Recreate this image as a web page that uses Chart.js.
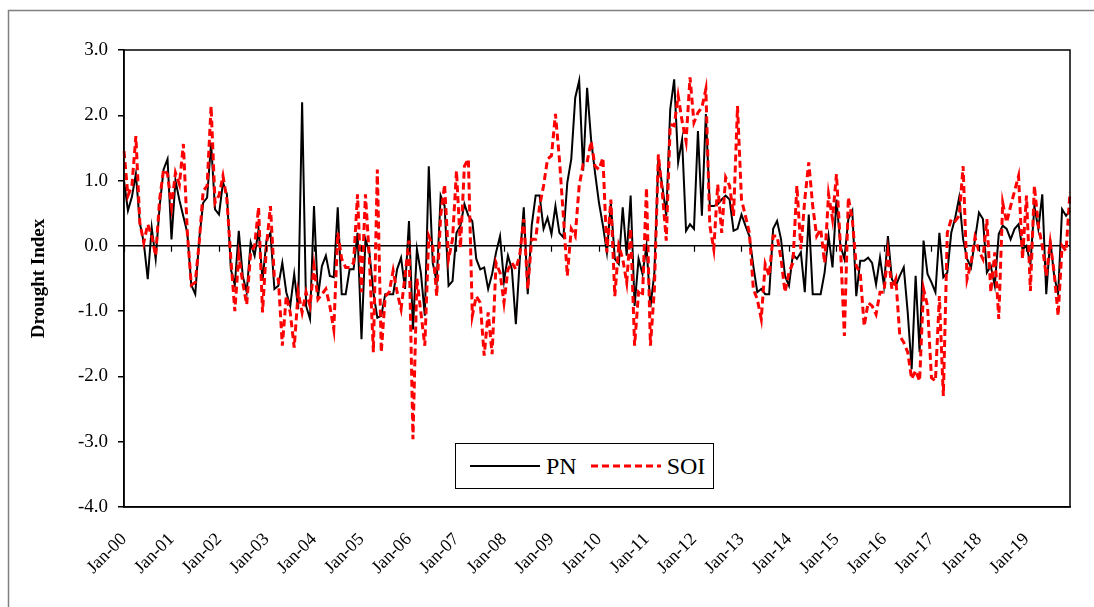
<!DOCTYPE html>
<html lang="en">
<head>
    <meta charset="UTF-8">
    <title>Drought Index PN vs SOI</title>
    <script src="https://cdn.jsdelivr.net/npm/chart.js"></script>
    <style>
        * { margin: 0; padding: 0; box-sizing: border-box; }
        body { background: white; width: 1094px; height: 607px; overflow: hidden; }
        .wrap { position: relative; width: 1094px; height: 607px; }
        .legend { position: absolute; left: 455px; top: 443px; width: 259px; height: 46px; border: 1.5px solid #000; background: white;
                  display: flex; align-items: center; padding-left: 14px; font-family: 'Liberation Serif', serif; font-size: 24px; color: #000; }
        .legend .item { display: flex; align-items: center; }
        .legend svg { margin-right: 6px; }
        .legend .item + .item { margin-left: 14px; }
    </style>
</head>
<body>
<div class="wrap">
    <canvas id="chart" width="1094" height="607"></canvas>
    <div id="legend" class="legend"></div>
</div>

<script>
    // monthly values Jan-2000 .. Dec-2019, one row per year
    const years = ["00","01","02","03","04","05","06","07","08","09","10","11","12","13","14","15","16","17","18","19"];
    const months = ["Jan","Feb","Mar","Apr","May","Jun","Jul","Aug","Sep","Oct","Nov","Dec"];

    const pn = [
        1.0, 0.54, 0.75, 1.1, 0.35, 0.05, -0.51, 0.28, -0.2, 0.6, 1.17, 1.33,
        0.1, 1.0, 0.7, 0.45, 0.2, -0.6, -0.74, 0.1, 0.66, 0.74, 1.58, 0.56,
        0.48, 0.97, 0.79, -0.36, -0.6, 0.23, -0.46, -0.71, 0.05, -0.15, 0.25, -0.53,
        0.08, 0.2, -0.66, -0.61, -0.26, -0.71, -0.92, -0.43, -0.97, 2.2, -0.92, -1.12,
        0.61, -0.79, -0.31, -0.15, -0.46, -0.48, 0.59, -0.74, -0.74, -0.36, -0.36, 0.2,
        -1.43, 0.1, -0.1, -0.71, -1.1, -1.07, -0.74, -0.74, -0.74, -0.36, -0.18, -0.66,
        0.38, -1.28, -0.05, -0.41, -1.07, 1.22, -0.26, -0.55, 0.77, 0.61, -0.61, -0.54,
        0.2, 0.31, 0.64, 0.46, 0.38, -0.2, -0.36, -0.33, -0.66, -0.43, -0.1, 0.15,
        -0.54, -0.15, -0.36, -1.2, -0.2, 0.59, -0.74, 0.31, 0.77, 0.77, 0.26, 0.43,
        0.18, 0.61, 0.2, 0.13, 0.97, 1.33, 2.27, 2.53, 1.15, 2.42, 1.63, 1.12,
        0.66, 0.31, -0.1, 0.66, -0.2, -0.28, 0.59, -0.15, 0.77, -0.92, -0.2, -0.43,
        0.0, -0.94, -0.41, 1.33, 0.92, 0.46, 2.09, 2.55, 1.28, 1.63, 0.23, 0.33,
        0.26, 1.76, 0.46, 2.02, 0.61, 0.61, 0.64, 0.71, 0.77, 0.71, 0.23, 0.26,
        0.48, 0.31, 0.15, -0.31, -0.71, -0.66, -0.74, -0.74, 0.26, 0.38, 0.1, -0.46,
        -0.61, -0.13, -0.2, -0.1, -0.71, 0.48, -0.74, -0.74, -0.74, -0.41, 0.15, -0.33,
        0.71, 0.0, -0.2, 0.41, 0.54, -0.77, -0.23, -0.23, -0.18, -0.26, -0.59, -0.18,
        -0.61, 0.15, -0.51, -0.61, -0.46, -0.33, -1.02, -1.89, -0.46, -1.63, 0.08, -0.43,
        -0.56, -0.71, 0.2, -0.48, -0.41, 0.2, 0.43, 0.74, 0.1, -0.2, -0.33, 0.1,
        0.51, 0.41, -0.41, -0.31, -0.61, 0.18, 0.31, 0.26, 0.1, 0.26, 0.33, -0.05,
        0.0, -0.28, 0.61, 0.26, 0.79, -0.74, 0.1, -0.46, -0.74, 0.56, 0.46, 0.54
    ];

    const soi = [
        1.45, 0.77, 0.92, 1.68, 0.35, 0.05, 0.33, 0.15, -0.15, 0.71, 1.17, 1.1,
        0.6, 1.12, 0.94, 1.56, 0.2, -0.6, -0.56, 0.05, 0.84, 0.92, 2.14, 0.66,
        0.77, 1.07, 0.71, -0.2, -1.0, -0.15, -0.56, -0.9, -0.1, 0.0, 0.59, -1.02,
        0.0, 0.61, -0.5, -0.51, -1.53, -0.77, -1.02, -1.56, -0.71, -1.02, -0.71, -0.92,
        -0.31, -0.82, -0.74, -0.66, -0.92, -1.28, 0.2, -0.2, -0.33, -0.33, -0.26, 0.79,
        -0.71, 0.79, -0.2, -1.63, 1.17, -1.63, -0.77, -0.71, -0.38, -0.71, -0.97, -0.46,
        0.08, -2.96, -0.5, -1.02, -1.53, 0.15, 0.0, -0.77, 0.46, 0.94, -0.2, 0.1,
        1.15, -0.03, 1.22, 1.33, -1.07, -0.77, -0.87, -1.68, -1.02, -1.66, -0.26, -0.41,
        -0.87, -0.36, -0.26, -0.36, -0.13, 0.41, -0.66, 0.1, 0.1, 0.61, 0.92, 1.33,
        1.38, 2.02, 1.33, 0.46, -0.46, 0.26, 0.15, 0.92, 1.25, 1.28, 1.6, 1.22,
        1.17, 1.35, -0.1, 0.71, -0.77, 0.0, -0.2, -0.56, 0.26, -1.53, -0.71, -0.77,
        0.89, -1.53, -0.66, 1.4, 0.82, 0.08, 1.86, 1.84, 2.3, 1.91, 1.6, 2.58,
        1.89, 2.04, 2.12, 2.4, 0.31, -0.05, 0.94, 0.2, 1.05, 0.92, 0.46, 2.14,
        0.71, 0.46, 0.2, -0.66, -0.82, -1.12, -0.28, -0.46, 0.15, 0.15, -0.2, -0.71,
        -0.41, -0.26, 0.92, -0.05, 0.71, 1.28, 0.61, 0.15, 0.26, -0.26, 0.79, 0.41,
        1.1, 0.0, -1.38, 0.74, 0.41, -0.31, -0.41, -1.23, -0.87, -0.92, -1.05, -0.71,
        -0.71, -0.1, -0.66, -0.51, -1.38, -1.48, -1.63, -2.04, -1.91, -2.07, -0.66, -0.92,
        -2.02, -2.07, -0.77, -2.3, 0.2, 0.41, 0.38, 0.46, 1.22, -0.51, -0.26, 0.13,
        -0.08, -0.2, 0.41, -0.71, -0.1, -1.12, 0.66, 0.36, 0.61, 0.84, 1.07, -0.2,
        0.77, -0.69, 0.92, 0.31, 0.0, -0.46, 0.05, -0.41, -1.07, 0.0, -0.08, 0.82
    ];

    const yTicks = [-4, -3, -2, -1, 0, 1, 2, 3];

    const labels = [];
    years.forEach(y => months.forEach(m => labels.push(m + "-" + y)));

    const serif = "'Liberation Serif', 'Times New Roman', serif";

    // outer frame, plot box and the little year ticks on the zero line
    const framePlugin = {
        id: "frame",
        beforeDraw(chart) {
            const ctx = chart.ctx;
            ctx.save();
            ctx.strokeStyle = "#808080";
            ctx.lineWidth = 1.5;
            ctx.strokeRect(8.5, 10.5, 1200, 700);
            ctx.restore();
        },
        afterDraw(chart) {
            const { ctx, chartArea: a, scales } = chart;
            ctx.save();
            ctx.strokeStyle = "#000";
            ctx.lineWidth = 1.5;
            ctx.strokeRect(a.left, a.top, a.right - a.left, a.bottom - a.top);
            const y0 = scales.y.getPixelForValue(0);
            ctx.lineWidth = 1.2;
            ctx.beginPath();
            for (let i = 0; i < labels.length; i += 12) {
                const x = Math.round(scales.x.getPixelForValue(i)) + 0.5;
                ctx.moveTo(x, y0);
                ctx.lineTo(x, y0 + 6);
            }
            ctx.stroke();
            ctx.restore();
        }
    };

    const chart = new Chart(document.getElementById("chart"), {
        type: "line",
        data: {
            labels: labels,
            datasets: [
                { label: "PN", data: pn, borderColor: "#000", borderWidth: 2, pointRadius: 0, tension: 0, order: 1 },
                { label: "SOI", data: soi, borderColor: "#ff0000", borderWidth: 3, borderDash: [7, 4], pointRadius: 0, tension: 0, order: 0 }
            ]
        },
        options: {
            responsive: false,
            animation: false,
            layout: { padding: { top: 50, right: 24, left: 0, bottom: 0 } },
            plugins: { legend: { display: false }, tooltip: { enabled: false } },
            scales: {
                x: {
                    offset: false,
                    grid: { display: false },
                    border: { display: true, color: "#000", width: 1.5 },
                    ticks: {
                        autoSkip: false,
                        minRotation: 45,
                        maxRotation: 45,
                        padding: 14,
                        color: "#000",
                        font: { family: serif, size: 18 },
                        callback: (v, i) => (i % 12 === 0 ? labels[i] : "")
                    },
                    afterFit: s => { s.height = 100; s.paddingLeft = 0; s.paddingRight = 0; }
                },
                y: {
                    min: -4,
                    max: 3,
                    afterBuildTicks: s => { s.ticks = yTicks.map(v => ({ value: v })); },
                    grid: {
                        drawOnChartArea: true,
                        color: c => (c.tick && c.tick.value === 0 ? "#000" : "rgba(0,0,0,0)"),
                        lineWidth: 1.5,
                        tickColor: "#000",
                        tickLength: 6
                    },
                    border: { display: true, color: "#000", width: 1.5 },
                    ticks: {
                        color: "#000",
                        padding: 10,
                        font: { family: serif, size: 19 },
                        callback: v => Number(v).toFixed(1)
                    },
                    title: {
                        display: true,
                        text: "Drought Index",
                        color: "#000",
                        padding: { top: 28, bottom: 0 },
                        font: { family: serif, size: 19, weight: "bold" }
                    },
                    afterFit: s => { s.width = 124; s.paddingTop = 0; s.paddingBottom = 0; }
                }
            }
        },
        plugins: [framePlugin]
    });

    // legend box inside the plot, built from the datasets
    const legendEl = document.getElementById("legend");
    chart.data.datasets.forEach(ds => {
        const item = document.createElement("span");
        item.className = "item";
        const dash = ds.borderDash ? ds.borderDash.join(" ") : "none";
        item.innerHTML = '<svg width="70" height="10"><line x1="0" y1="5" x2="70" y2="5" stroke="' + ds.borderColor +
            '" stroke-width="' + ds.borderWidth + '" stroke-dasharray="' + dash + '"/></svg>';
        const t = document.createElement("span");
        t.textContent = ds.label;
        item.appendChild(t);
        legendEl.appendChild(item);
    });
</script>
</body>
</html>
